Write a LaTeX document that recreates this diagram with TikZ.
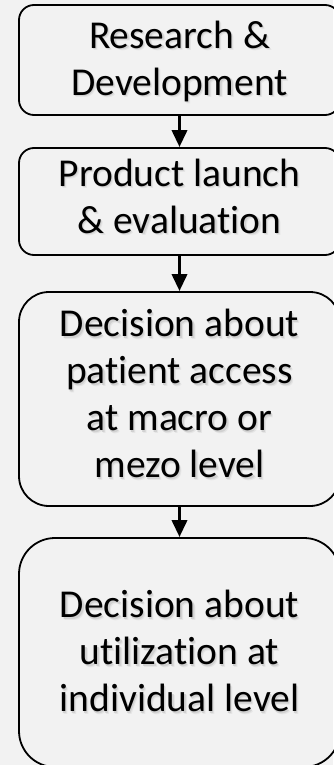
\documentclass[tikz,border=0pt]{standalone}
\usepackage{fontspec}
\setmainfont{Carlito}[Ligatures={NoCommon}]
\usetikzlibrary{arrows.meta}
\definecolor{pagebg}{HTML}{F2F2F2}
% centred lines of text with a soft drop shadow behind them
\newcommand{\shadowlines}[1]{%
  \fontsize{39.5}{47}\selectfont
  \makebox[0pt][l]{\raisebox{-2.2pt}{\hspace{2.2pt}\color{black!10}\begin{tabular}{@{}c@{}}#1\end{tabular}}}%
  \makebox[0pt][l]{\raisebox{-1.2pt}{\hspace{1.2pt}\color{black!18}\begin{tabular}{@{}c@{}}#1\end{tabular}}}%
  \begin{tabular}{@{}c@{}}#1\end{tabular}}
% lower the text inside its box without changing the box size
\newcommand{\lowerby}[2]{\raisebox{-#1}[\height][\depth]{#2}}
\begin{document}
\begin{tikzpicture}[x=1pt,y=-1pt,
  stage/.style={draw=black, line width=1.8pt, fill=none, inner sep=0pt,
    minimum width=321pt, rectangle},
  flow/.style={line width=3.5pt, -{Triangle[width=15pt,length=17pt]}}]
  \fill[pagebg] (0,0) rectangle (333,765);
  \useasboundingbox (0,0) rectangle (333,765);

  \node[stage, rounded corners=15pt, minimum height=110pt] (rd) at (179.5,60)
    {\lowerby{3.4pt}{\shadowlines{Research \&\\Development}}};
  \node[stage, rounded corners=15pt, minimum height=107pt] (launch) at (179.5,201.5)
    {\shadowlines{Product launch\\\& evaluation}};
  \node[stage, rounded corners=30pt, minimum height=214pt] (access) at (179.5,399)
    {\shadowlines{Decision about\\patient access\\at macro or\\mezo level}};
  \node[stage, rounded corners=36pt, minimum height=229pt] (use) at (179.5,652.5)
    {\lowerby{4pt}{\shadowlines{Decision about\\utilization at\\individual level}}};

  \draw[flow] (rd.south) -- (launch.north);
  \draw[flow] (launch.south) -- (access.north);
  \draw[flow] (access.south) -- (use.north);
\end{tikzpicture}
\end{document}
